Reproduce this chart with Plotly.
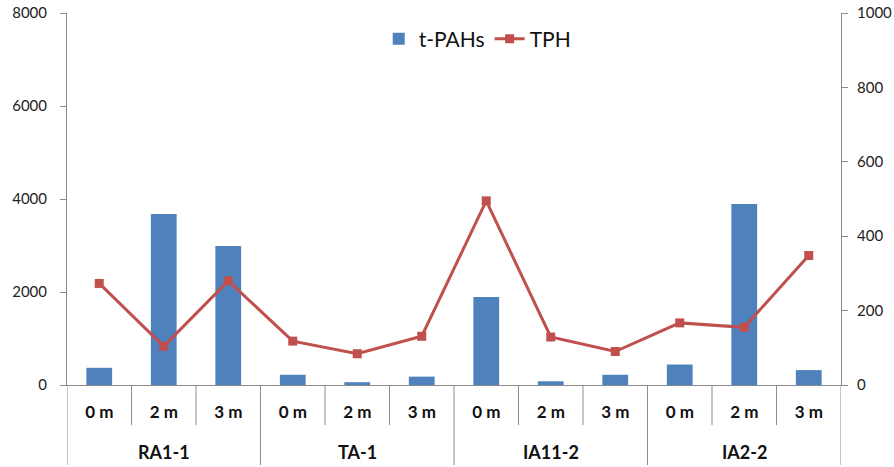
import plotly.graph_objects as go

groups = ["RA1-1"] * 3 + ["TA-1"] * 3 + ["IA11-2"] * 3 + ["IA2-2"] * 3
depths = ["0 m", "2 m", "3 m"] * 4
t_pahs = [370, 3680, 2990, 220, 60, 180, 1890, 80, 220, 440, 3890, 320]
tph = [273, 104, 280, 118, 84, 131, 495, 129, 90, 167, 155, 348]

BLUE = "#4F81BD"
RED = "#C0504D"
AXIS = "#8C8C8C"
FONT = "Lato"

idx = list(range(len(depths)))

fig = go.Figure()
fig.add_trace(go.Bar(x=idx, y=t_pahs, name="t-PAHs",
                     marker=dict(color=BLUE, line=dict(width=0))))
fig.add_trace(go.Scatter(x=idx, y=tph, name="TPH", yaxis="y2",
                         mode="lines+markers",
                         line=dict(color=RED, width=3),
                         marker=dict(symbol="square", size=9, color=RED)))

PLOT_H = 372
shapes = []
annotations = []
for i in range(len(depths) + 1):
    xb = i - 0.5
    new_group = i == 0 or i == len(depths) or groups[i] != groups[i - 1]
    depth_px = 80 if new_group else 40
    shapes.append(dict(type="line", xref="x", yref="paper",
                       x0=xb, x1=xb, y0=0, y1=-depth_px / PLOT_H,
                       line=dict(color=AXIS, width=1)))

seen = []
for g in groups:
    if g not in seen:
        seen.append(g)
for g in seen:
    members = [i for i, gg in enumerate(groups) if gg == g]
    xc = sum(members) / len(members)
    annotations.append(dict(x=xc, xref="x", y=-67 / PLOT_H, yref="paper",
                            text=g, showarrow=False, yanchor="middle",
                            font=dict(family=FONT, size=18, color="#111",
                                      weight="bold")))

fig.update_layout(
    width=894, height=467,
    margin=dict(l=67, r=53, t=13, b=82),
    plot_bgcolor="white", paper_bgcolor="white",
    bargap=0.6,
    showlegend=True,
    legend=dict(orientation="h", x=0.53, xanchor="center", y=0.985, yanchor="top",
                font=dict(family=FONT, size=21, color="#111"),
                bgcolor="rgba(0,0,0,0)", itemwidth=30, traceorder="normal"),
    font=dict(family=FONT, color="#222"),
    xaxis=dict(range=[-0.5, len(depths) - 0.5], tickvals=idx, ticktext=depths,
               showline=True, linecolor=AXIS, linewidth=1,
               ticks="", showgrid=False, zeroline=False, automargin=False,
               ticklabelstandoff=12,
               tickfont=dict(family=FONT, size=17, color="#111", weight="bold")),
    yaxis=dict(range=[0, 8000], tickvals=[0, 2000, 4000, 6000, 8000],
               showline=True, linecolor=AXIS, linewidth=1, showgrid=False,
               zeroline=False, ticks="outside", ticklen=6, tickcolor=AXIS,
               ticklabelstandoff=10, automargin=False,
               tickfont=dict(family=FONT, size=15, color="#222")),
    yaxis2=dict(range=[0, 1000], tickvals=[0, 200, 400, 600, 800, 1000],
                overlaying="y", side="right",
                showline=True, linecolor=AXIS, linewidth=1, showgrid=False,
                zeroline=False, ticks="outside", ticklen=6, tickcolor=AXIS,
                ticklabelstandoff=6, automargin=False,
                tickfont=dict(family=FONT, size=15, color="#222")),
    shapes=shapes,
    annotations=annotations,
)

fig.write_html("out.html", config={"displayModeBar": False},
               post_script="document.body.style.margin='0';document.body.style.overflow='hidden';")
